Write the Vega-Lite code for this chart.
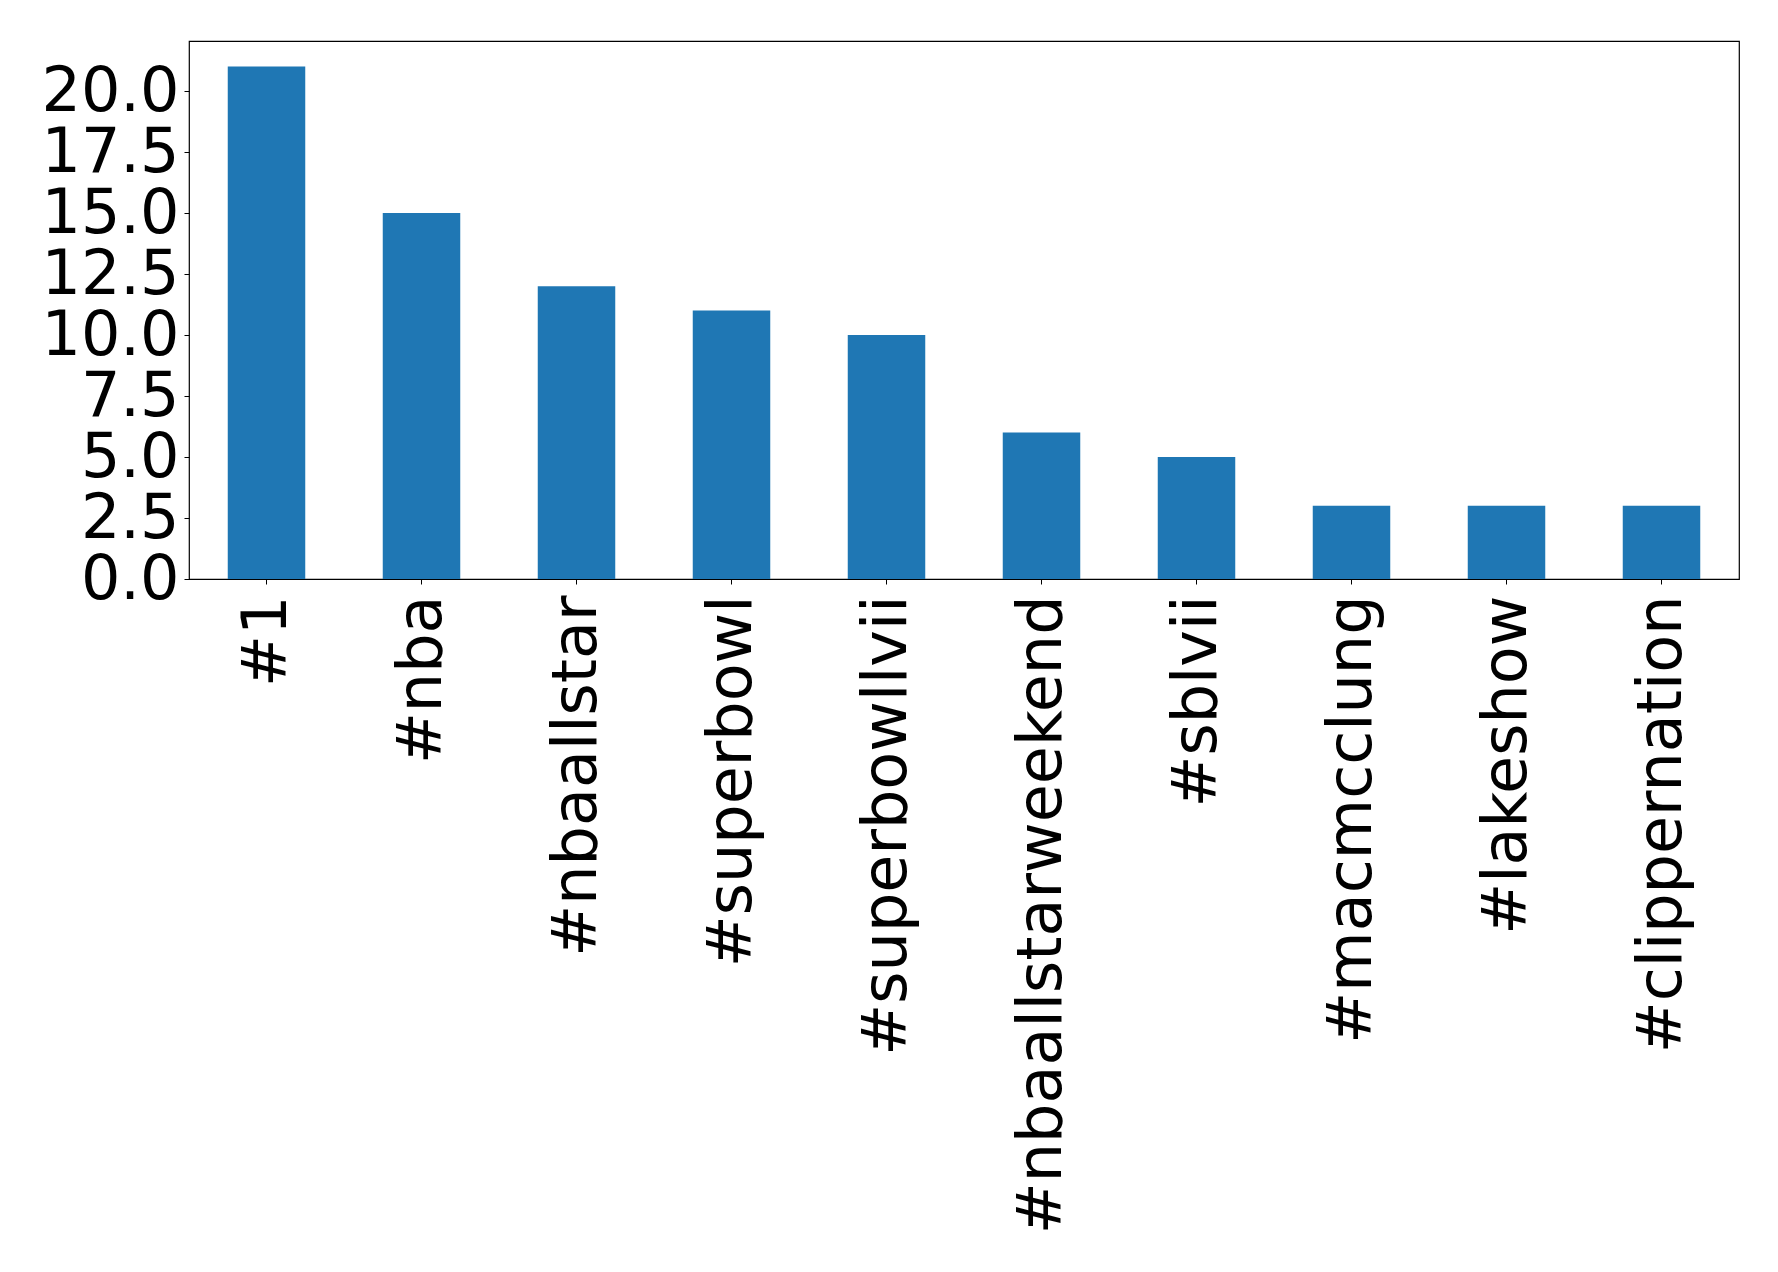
{
  "$schema": "https://vega.github.io/schema/vega-lite/v6.json",
  "autosize": {"type": "none"},
  "padding": {"left": 189, "top": 41, "right": 39, "bottom": 693},
  "width": 1550,
  "height": 538,
  "background": "white",
  "data": {
    "values": [
      {"tag": "#1", "count": 21},
      {"tag": "#nba", "count": 15},
      {"tag": "#nbaallstar", "count": 12},
      {"tag": "#superbowl", "count": 11},
      {"tag": "#superbowllvii", "count": 10},
      {"tag": "#nbaallstarweekend", "count": 6},
      {"tag": "#sblvii", "count": 5},
      {"tag": "#macmcclung", "count": 3},
      {"tag": "#lakeshow", "count": 3},
      {"tag": "#clippernation", "count": 3}
    ]
  },
  "mark": {"type": "bar", "color": "#1f77b4"},
  "encoding": {
    "x": {
      "field": "tag",
      "type": "nominal",
      "sort": null,
      "scale": {"paddingInner": 0.5, "paddingOuter": 0.25},
      "axis": {
        "title": null,
        "labelAngle": -90,
        "labelFont": "DejaVu Sans",
        "labelFontSize": 62,
        "labelColor": "black",
        "labelPadding": 11,
        "tickSize": 5,
        "tickColor": "black",
        "domain": false,
        "grid": false,
        "labelLimit": 0,
        "labelOverlap": false
      }
    },
    "y": {
      "field": "count",
      "type": "quantitative",
      "scale": {"domain": [0, 22.05], "nice": false, "zero": true},
      "axis": {
        "title": null,
        "values": [0, 2.5, 5, 7.5, 10, 12.5, 15, 17.5, 20],
        "format": ".1f",
        "labelFont": "DejaVu Sans",
        "labelFontSize": 62,
        "labelColor": "black",
        "labelPadding": 5,
        "tickSize": 5,
        "tickColor": "black",
        "domain": false,
        "grid": false,
        "labelLimit": 0,
        "labelOverlap": false
      }
    }
  },
  "config": {
    "view": {"stroke": "black", "strokeWidth": 1.2}
  }
}
